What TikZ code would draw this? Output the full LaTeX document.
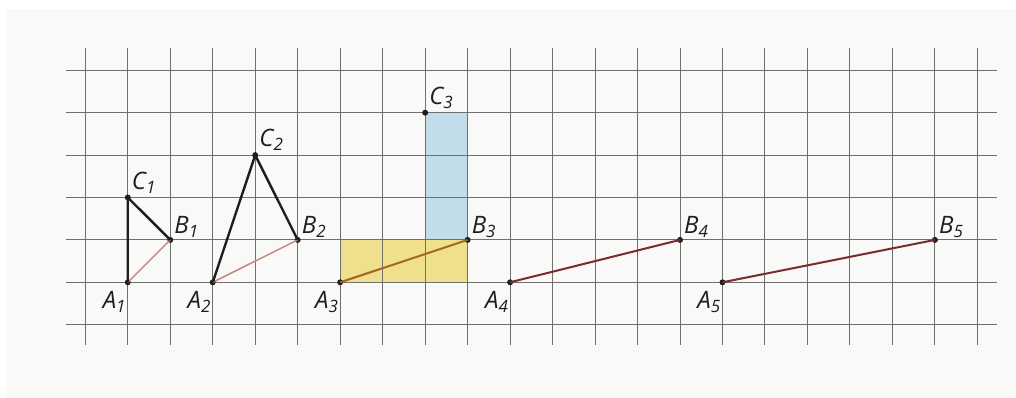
\documentclass[tikz,border=0pt]{standalone}
\usepackage{fontspec}
\setmainfont{Open Sans}
\definecolor{paper}{HTML}{F9F9F8}
\definecolor{gridc}{HTML}{707070}
\definecolor{yel}{HTML}{EFE08E}
\definecolor{blu}{HTML}{C3DCEA}
\definecolor{pinkl}{HTML}{C48A80}
\definecolor{ochre}{HTML}{A2651C}
\definecolor{dred}{HTML}{7A2B2B}
\definecolor{ink}{HTML}{1E1E1E}
\newcommand\ptlab[2]{#1\raisebox{-0.32ex}{\fontsize{17}{19}\selectfont #2}}
\begin{document}
\begin{tikzpicture}[x=1pt,y=-1pt,
  gridline/.style={draw=gridc, line width=1pt},
  pt/.style={circle, fill=ink, inner sep=0pt, minimum size=6pt},
  lab/.style={font=\fontsize{24}{28}\selectfont\itshape, inner sep=0pt, text=ink},
  side/.style={line width=2.4pt, ink},
  pinkseg/.style={line width=1.5pt, pinkl},
  ochreseg/.style={line width=2pt, ochre},
  redseg/.style={line width=2pt, dred}]
\useasboundingbox (0,0) rectangle (1016,398);
\fill[white] (0,0) rectangle (1016,398);
\fill[paper] (6,9) rectangle (1016,398);
\begin{scope}[shift={(0.3,0.3)}]
% coloured rectangles
\fill[yel] (339.88,239.6) rectangle (467.32,282);
\fill[blu] (424.84,112.4) rectangle (467.32,239.6);
% grid
\foreach \i in {0,...,21} \draw[gridline] ({85+42.48*\i},48) -- ({85+42.48*\i},345);
\foreach \j in {0,...,6} \draw[gridline] (66,{70+42.4*\j}) -- (997,{70+42.4*\j});
% points
\node[pt] (A1) at (127.48,282) {};
\node[pt] (B1) at (169.96,239.6) {};
\node[pt] (C1) at (127.48,197.2) {};
\node[pt] (A2) at (212.44,282) {};
\node[pt] (B2) at (297.4,239.6) {};
\node[pt] (C2) at (254.92,154.8) {};
\node[pt] (A3) at (339.88,282) {};
\node[pt] (B3) at (467.32,239.6) {};
\node[pt] (C3) at (424.84,112.4) {};
\node[pt] (A4) at (509.8,282) {};
\node[pt] (B4) at (679.72,239.6) {};
\node[pt] (A5) at (722.2,282) {};
\node[pt] (B5) at (934.6,239.6) {};
% segments
\draw[pinkseg] (A1.center) -- (B1.center);
\draw[side] (A1.center) -- (C1.center) -- (B1.center);
\draw[pinkseg] (A2.center) -- (B2.center);
\draw[side] (A2.center) -- (C2.center) -- (B2.center);
\draw[ochreseg] (A3.center) -- (B3.center);
\draw[redseg] (A4.center) -- (B4.center);
\draw[redseg] (A5.center) -- (B5.center);
% labels
\foreach \n/\s in {A1/1,A2/2,A3/3,A4/4,A5/5}
  \node[lab, anchor=north east] at ([xshift=-2pt,yshift=-9pt]\n.center) {\ptlab{A}{\s}};
\foreach \n/\s in {B1/1,B2/2,B3/3,B4/4,B5/5}
  \node[lab, anchor=south west] at ([xshift=4pt,yshift=2pt]\n.center) {\ptlab{B}{\s}};
\foreach \n/\s in {C1/1,C2/2,C3/3}
  \node[lab, anchor=south west] at ([xshift=4pt,yshift=4pt]\n.center) {\ptlab{C}{\s}};
\end{scope}
\end{tikzpicture}
\end{document}
